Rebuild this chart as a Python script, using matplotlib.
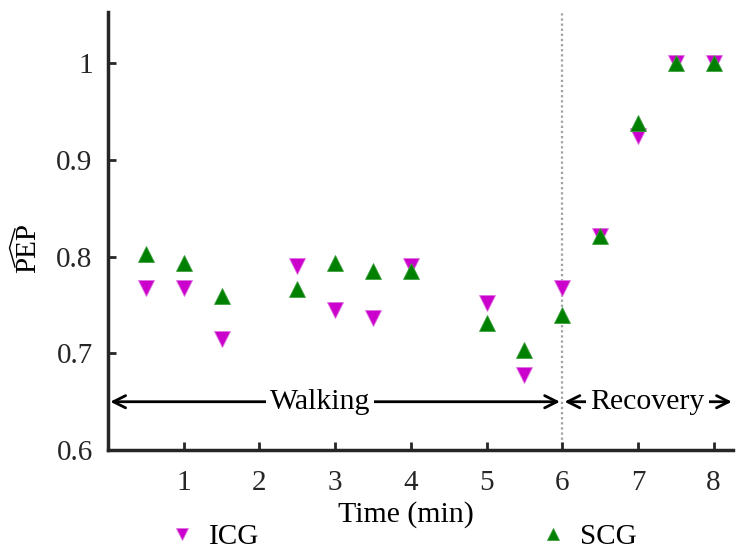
import matplotlib
matplotlib.use("Agg")
import matplotlib.pyplot as plt
from matplotlib.lines import Line2D
import numpy as np

plt.rcParams['font.family'] = ['Liberation Serif', 'DejaVu Serif']

# time points (min)
time = [0.5, 1, 1.5, 2.5, 3, 3.5, 4, 5, 5.5, 6, 6.5, 7, 7.5, 8]
# normalised PEP estimates
icg = [0.768, 0.768, 0.715, 0.790, 0.745, 0.737, 0.790, 0.752, 0.678, 0.768, 0.821, 0.925, 1.0, 1.0]
scg = [0.803, 0.794, 0.759, 0.767, 0.794, 0.785, 0.785, 0.731, 0.704, 0.740, 0.821, 0.938, 1.0, 1.0]

xticks = [1, 2, 3, 4, 5, 6, 7, 8]
yticks = [0.6, 0.7, 0.8, 0.9, 1.0]
ytick_labels = ['0.6', '0.7', '0.8', '0.9', '1']

W, H = 748, 557
fig = plt.figure(figsize=(W / 100, H / 100), dpi=100)
ax = fig.add_axes([0.1444, 0.192, 0.836, 0.786])

ax.axvline(6, color='#a0a0a0', linestyle=(0, (1, 1.3)), linewidth=1.6, zorder=1)

l_icg, = ax.plot(time, icg, linestyle='none', marker='v', markersize=11, color='#cc00cc',
                 markeredgecolor='#e070e0', markeredgewidth=0.6, label='ICG', zorder=3)
l_scg, = ax.plot(time, scg, linestyle='none', marker='^', markersize=11, color='#008000',
                 markeredgecolor='#40a040', markeredgewidth=0.6, label='SCG', zorder=4)

# phase arrows
arr_y = 0.65
ax.annotate('', xy=(0.03, arr_y), xytext=(5.97, arr_y),
            arrowprops=dict(arrowstyle='<->', color='black', lw=2, shrinkA=0, shrinkB=0,
                            mutation_scale=22))
ax.text(2.8, arr_y, 'Walking', fontsize=21.5, ha='center', va='center',
        bbox=dict(facecolor='white', edgecolor='none', pad=3), zorder=5)
ax.annotate('', xy=(6.03, arr_y), xytext=(8.24, arr_y),
            arrowprops=dict(arrowstyle='<->', color='black', lw=2, shrinkA=0, shrinkB=0,
                            mutation_scale=22))
ax.text(7.13, arr_y, 'Recovery', fontsize=21.5, ha='center', va='center',
        bbox=dict(facecolor='white', edgecolor='none', pad=3), zorder=5)

ax.set_xlim(0, 8.26)
ax.set_ylim(0.6, 1.053)
ax.set_xticks(xticks)
ax.set_yticks(yticks)
ax.set_yticklabels(ytick_labels)
ax.tick_params(direction='in', length=6, width=2, labelsize=21, color='#262626',
               labelcolor='#262626')
ax.tick_params(axis='x', pad=14)
ax.tick_params(axis='y', pad=11)

for s in ['top', 'right']:
    ax.spines[s].set_visible(False)
for s in ['left', 'bottom']:
    ax.spines[s].set_linewidth(2.5)
    ax.spines[s].set_color('#262626')

ax.set_xlabel('Time (min)', fontsize=21.5, va='center')
ax.xaxis.set_label_coords((406 - 108) / 625, (450 - 515) / 438)
ax.set_ylabel('PEP', fontsize=21, va='center')
ax.yaxis.set_label_coords((28 - 108) / 625, (450 - 248) / 438)

# wide hat over the rotated PEP label
hat_x = [15 / W, 9.5 / W, 15 / W]
hat_y = [1 - 229 / H, 1 - 248 / H, 1 - 267 / H]
fig.add_artist(Line2D(hat_x, hat_y, transform=fig.transFigure, color='black', lw=1.0))

fig.legend(handles=[l_icg, l_scg], loc='center', bbox_to_anchor=(402 / W, 1 - 537 / H),
           ncol=2, frameon=False, fontsize=21, columnspacing=9.6, handletextpad=0.4,
           handlelength=1.0, markerscale=0.8, borderpad=0, borderaxespad=0)

fig.savefig('out.png', dpi=100)
